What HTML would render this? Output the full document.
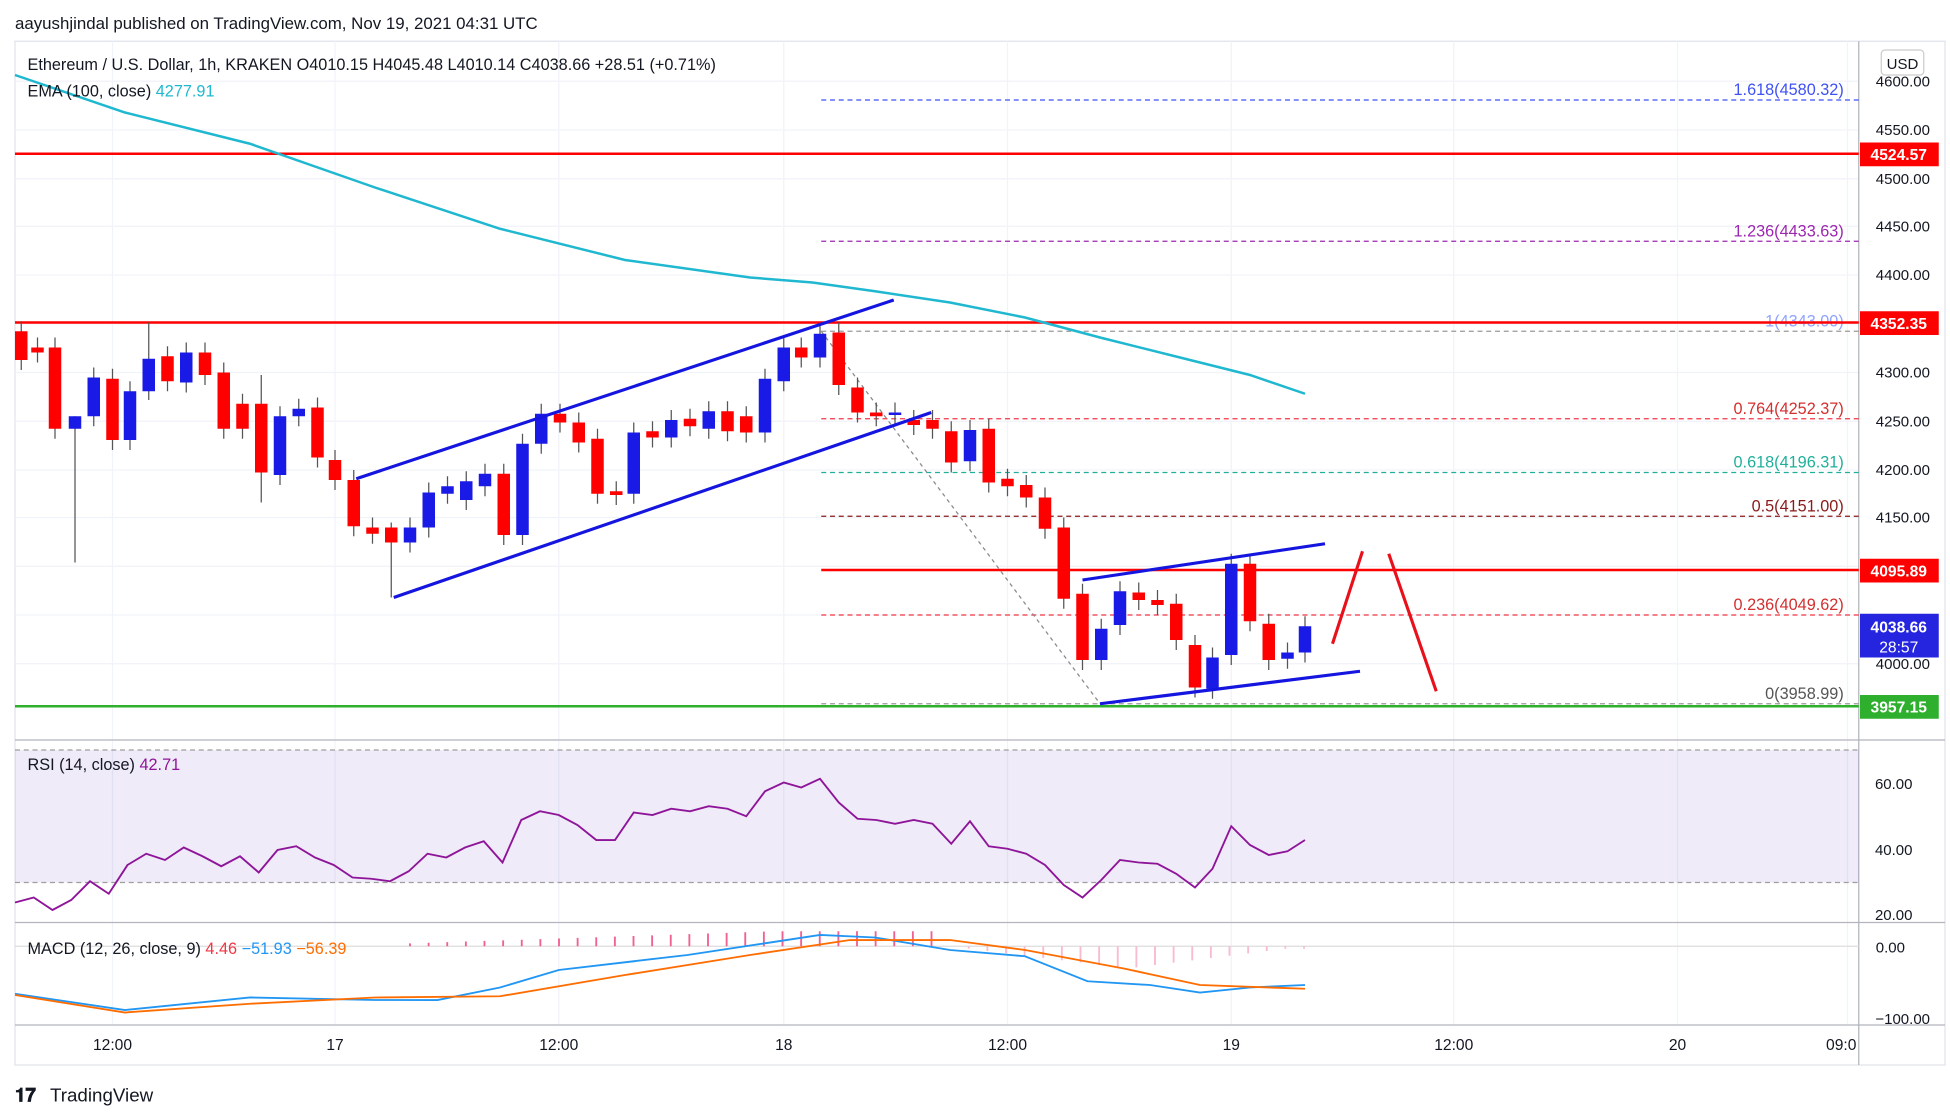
<!DOCTYPE html>
<html><head><meta charset="utf-8">
<style>
html,body{margin:0;padding:0;background:#fff;}
svg{display:block;font-family:"Liberation Sans",sans-serif;}
</style></head>
<body>
<svg id="s" width="1950" height="1114" viewBox="0 0 1560 891.2" xmlns="http://www.w3.org/2000/svg">
<rect width="1560" height="892" fill="#fff"/>
<text x="12" y="23" font-size="13.5" fill="#131722">aayushjindal published on TradingView.com, Nov 19, 2021 04:31 UTC</text>
<rect x="12" y="33" width="1544" height="819" fill="none" stroke="#e0e3eb"/>
<!-- grid -->
<g stroke="#f0f3fa" stroke-width="1">
<line x1="90" y1="33" x2="90" y2="820"/><line x1="268" y1="33" x2="268" y2="820"/><line x1="447" y1="33" x2="447" y2="820"/><line x1="627" y1="33" x2="627" y2="820"/><line x1="806" y1="33" x2="806" y2="820"/><line x1="985" y1="33" x2="985" y2="820"/><line x1="1163" y1="33" x2="1163" y2="820"/><line x1="1342" y1="33" x2="1342" y2="820"/><line x1="1478" y1="33" x2="1478" y2="820"/>
<line x1="12" y1="65" x2="1487" y2="65"/><line x1="12" y1="104" x2="1487" y2="104"/><line x1="12" y1="143" x2="1487" y2="143"/><line x1="12" y1="181" x2="1487" y2="181"/><line x1="12" y1="220" x2="1487" y2="220"/><line x1="12" y1="259" x2="1487" y2="259"/><line x1="12" y1="298" x2="1487" y2="298"/><line x1="12" y1="337" x2="1487" y2="337"/><line x1="12" y1="376" x2="1487" y2="376"/><line x1="12" y1="414" x2="1487" y2="414"/><line x1="12" y1="453" x2="1487" y2="453"/><line x1="12" y1="492" x2="1487" y2="492"/><line x1="12" y1="531" x2="1487" y2="531"/>
</g>
<!-- pane separators -->
<line x1="12" y1="592" x2="1556" y2="592" stroke="#b2b5be"/>
<line x1="12" y1="738" x2="1556" y2="738" stroke="#b2b5be"/>
<line x1="12" y1="820" x2="1556" y2="820" stroke="#b2b5be"/>
<line x1="1487" y1="33" x2="1487" y2="852" stroke="#b2b5be"/>
<!-- fib lines -->
<g stroke-width="1" stroke-dasharray="4,3">
<line x1="657" y1="80" x2="1487" y2="80" stroke="#3f51f5"/>
<line x1="657" y1="193" x2="1487" y2="193" stroke="#9c27b0"/>
<line x1="657" y1="265" x2="1487" y2="265" stroke="#999"/>
<line x1="657" y1="335" x2="1487" y2="335" stroke="#f23645"/>
<line x1="657" y1="378" x2="1487" y2="378" stroke="#20b09a"/>
<line x1="657" y1="413" x2="1487" y2="413" stroke="#8b1a1a"/>
<line x1="657" y1="492" x2="1487" y2="492" stroke="#f23645"/>
<line x1="657" y1="563" x2="1487" y2="563" stroke="#999"/>
</g>
<g font-size="13" text-anchor="end">
<text x="1475" y="76" fill="#3f51f5">1.618(4580.32)</text>
<text x="1475" y="189" fill="#9c27b0">1.236(4433.63)</text>
<text x="1475" y="261" fill="#90a4ff">1(4343.00)</text>
<text x="1475" y="331" fill="#d32f2f">0.764(4252.37)</text>
<text x="1475" y="374" fill="#20b09a">0.618(4196.31)</text>
<text x="1475" y="409" fill="#8b1a1a">0.5(4151.00)</text>
<text x="1475" y="488" fill="#d32f2f">0.236(4049.62)</text>
<text x="1475" y="559" fill="#555">0(3958.99)</text>
</g>
<!-- horizontal levels -->
<line x1="12" y1="123" x2="1487" y2="123" stroke="#f00" stroke-width="2"/>
<line x1="12" y1="258" x2="1487" y2="258" stroke="#f00" stroke-width="2"/>
<line x1="657" y1="456" x2="1487" y2="456" stroke="#f00" stroke-width="2"/>
<line x1="12" y1="565" x2="1487" y2="565" stroke="#2eaf2e" stroke-width="2"/>
<line x1="657" y1="265" x2="880" y2="563" stroke="#888" stroke-dasharray="3,3"/>
<g id="candles"></g>
<!-- EMA -->
<polyline fill="none" stroke="#1fb8d0" stroke-width="2" points="12,60 100,90 200,115 300,150 400,183 500,208 600,222 650,226 700,233 760,242 820,254 880,270 940,285 1000,300 1044,315"/>
<!-- drawings -->
<g stroke="#1515e0" stroke-width="2.5">
<line x1="285" y1="383" x2="715" y2="240"/><line x1="315" y1="478" x2="745" y2="330"/>
<line x1="866" y1="464" x2="1060" y2="435"/><line x1="880" y1="563" x2="1088" y2="537"/>
</g>
<g stroke="#e8101a" stroke-width="2.5">
<line x1="1066" y1="515" x2="1090" y2="441"/><line x1="1111" y1="443" x2="1149" y2="553"/>
</g>
<!-- legend -->
<text x="22" y="56" font-size="13" fill="#131722">Ethereum / U.S. Dollar, 1h, KRAKEN  O4010.15  H4045.48  L4010.14  C4038.66  +28.51 (+0.71%)</text>
<text x="22" y="77" font-size="13" fill="#131722">EMA (100, close) <tspan fill="#1fb8d0">4277.91</tspan></text>
<!-- price axis -->
<rect x="1505" y="40" width="34" height="20" rx="3" fill="#fff" stroke="#ccc"/>
<text x="1522" y="55" font-size="12" text-anchor="middle" fill="#131722">USD</text>
<g font-size="12" fill="#131722" text-anchor="end">
<text x="1544" y="69">4600.00</text><text x="1544" y="108">4550.00</text><text x="1544" y="147">4500.00</text><text x="1544" y="185">4450.00</text><text x="1544" y="224">4400.00</text><text x="1544" y="302">4300.00</text><text x="1544" y="341">4250.00</text><text x="1544" y="380">4200.00</text><text x="1544" y="418">4150.00</text><text x="1544" y="535">4000.00</text>
<text x="1530" y="631">60.00</text><text x="1530" y="684">40.00</text><text x="1530" y="736">20.00</text>
<text x="1524" y="762">0.00</text><text x="1544" y="819">−100.00</text>
</g>
<g font-size="12.5" fill="#fff" font-weight="bold" text-anchor="middle">
<rect x="1488" y="114" width="63" height="19" fill="#f00"/><text x="1519" y="128">4524.57</text>
<rect x="1488" y="249" width="63" height="19" fill="#f00"/><text x="1519" y="263">4352.35</text>
<rect x="1488" y="447" width="63" height="19" fill="#f00"/><text x="1519" y="461">4095.89</text>
<rect x="1488" y="491" width="63" height="35" fill="#2525e0"/><text x="1519" y="506">4038.66</text><text x="1519" y="522" font-weight="normal">28:57</text>
<rect x="1488" y="556" width="63" height="19" fill="#2eaf2e"/><text x="1519" y="570">3957.15</text>
</g>
<!-- RSI -->
<rect x="12" y="600" width="1475" height="106" fill="#7e57c2" fill-opacity="0.12"/>
<line x1="12" y1="600" x2="1487" y2="600" stroke="#9e9e9e" stroke-dasharray="4,3"/>
<line x1="12" y1="706" x2="1487" y2="706" stroke="#9e9e9e" stroke-dasharray="4,3"/>
<polyline fill="none" stroke="#8e1599" stroke-width="1.5" points="12,722 27,718 42,728 57,720 72,705 87,715 102,692 117,683 132,688 147,678 162,685 177,693 192,685 207,698 222,680 237,677 252,686 267,692 282,702 297,703 312,705 327,697 342,683 357,686 372,678 387,673 402,690 417,656 432,649 447,652 462,660 477,672 492,672 507,650 522,652 537,647 552,649 567,645 582,647 597,653 612,633 627,626 641,630 656,623 671,642 686,655 701,656 716,659 731,656 746,659 761,675 776,657 791,677 806,679 821,683 836,692 851,708 866,718 881,704 896,688 911,690 926,691 941,699 956,710 970,695 985,661 1000,676 1015,684 1030,681 1044,672"/>
<text x="22" y="616" font-size="13" fill="#131722">RSI (14, close) <tspan fill="#8e1599">42.71</tspan></text>
<!-- MACD -->
<line x1="12" y1="757" x2="1487" y2="757" stroke="#ddd"/>
<g id="hist"></g>
<polyline fill="none" stroke="#2196f3" stroke-width="1.5" points="12,795 100,808 200,798 300,800 350,800 400,790 447,776 550,764 656,748 700,750 760,760 820,765 870,785 920,788 960,794 1000,790 1044,788"/>
<polyline fill="none" stroke="#ff6d00" stroke-width="1.5" points="12,796 100,810 200,803 300,798 400,797 500,780 600,764 680,752 760,752 820,760 900,775 960,788 1044,791"/>
<text x="22" y="763" font-size="13" fill="#131722">MACD (12, 26, close, 9) <tspan fill="#f23645">4.46</tspan> <tspan fill="#2196f3">−51.93</tspan> <tspan fill="#ff6d00">−56.39</tspan></text>
<!-- time axis -->
<g font-size="12.5" fill="#131722" text-anchor="middle">
<text x="90" y="840">12:00</text><text x="268" y="840">17</text><text x="447" y="840">12:00</text><text x="627" y="840">18</text><text x="806" y="840">12:00</text><text x="985" y="840">19</text><text x="1163" y="840">12:00</text><text x="1342" y="840">20</text><text x="1473" y="840">09:0</text>
</g>
<text x="12" y="881" font-size="15" font-weight="bold" fill="#131722">𝟏𝟕</text>
<text x="40" y="881" font-size="15" fill="#131722">TradingView</text>
</svg>
<script>
var C=[[17,'r',265,288],[30,'r',278,282],[44,'r',278,343],[60,'b',333,343],[75,'b',302,333],[90,'r',303,352],[104,'b',313,352],[119,'b',287,313],[134,'r',285,305],[149,'b',282,306],[164,'r',282,300],[179,'r',298,343],[194,'r',323,343],[209,'r',323,378],[224,'b',333,380],[239,'b',327,333],[254,'r',326,366],[268,'r',368,384],[283,'r',384,421],[298,'r',422,427],[313,'r',422,434],[328,'b',422,434],[343,'b',394,422],[358,'b',389,395],[373,'b',385,400],[388,'b',379,389],[403,'r',379,428],[418,'b',355,428],[433,'b',331,355],[448,'r',331,338],[463,'r',338,354],[478,'r',351,395],[493,'r',393,396],[507,'b',346,395],[522,'r',345,350],[537,'b',336,350],[552,'r',335,341],[567,'b',329,343],[582,'r',329,345],[597,'r',333,346],[612,'b',303,346],[627,'b',278,305],[641,'r',278,286],[656,'b',267,286],[671,'r',266,308],[686,'r',310,330],[701,'r',330,333],[716,'b',330,332],[731,'r',336,340],[746,'r',336,343],[761,'r',345,370],[776,'b',344,369],[791,'r',343,386],[806,'r',383,389],[821,'r',388,398],[836,'r',398,423],[851,'r',422,479],[866,'r',475,528],[881,'b',503,528],[896,'b',473,500],[911,'r',474,480],[926,'r',480,484],[941,'r',483,512],[956,'r',516,550],[970,'b',526,551],[985,'b',451,524],[1000,'r',451,497],[1015,'r',499,528],[1030,'b',522,527],[1044,'b',501,522]];
var W={60:[333,450],313:[418,478],119:[258,320],209:[300,402]};
var h='';
C.forEach(function(c){var col=c[1]=='r'?'#f00':'#1a1ae6';var hi=c[2]-8,lo=c[3]+8;if(W[c[0]]){hi=W[c[0]][0];lo=W[c[0]][1];}
h+='<line x1="'+c[0]+'" y1="'+hi+'" x2="'+c[0]+'" y2="'+lo+'" stroke="#555" stroke-width="1"/>';
h+='<rect x="'+(c[0]-5)+'" y="'+c[2]+'" width="10" height="'+Math.max(1.5,c[3]-c[2])+'" fill="'+col+'"/>';});
document.getElementById('candles').innerHTML=h;
var g='';for(var x=328;x<=1044;x+=14.9){var v;if(x<760){v=-Math.min(12,(x-320)/30+2);}else{v=Math.min(18,(x-760)/8);if(x>900)v=Math.max(2,18-(x-900)/8);}
g+='<line x1="'+x.toFixed(1)+'" y1="757" x2="'+x.toFixed(1)+'" y2="'+(757+v).toFixed(1)+'" stroke="'+(v<0?'#f06292':'#f8bbd0')+'" stroke-width="1.5"/>';}
document.getElementById('hist').innerHTML=g;
</script>
</body></html>
